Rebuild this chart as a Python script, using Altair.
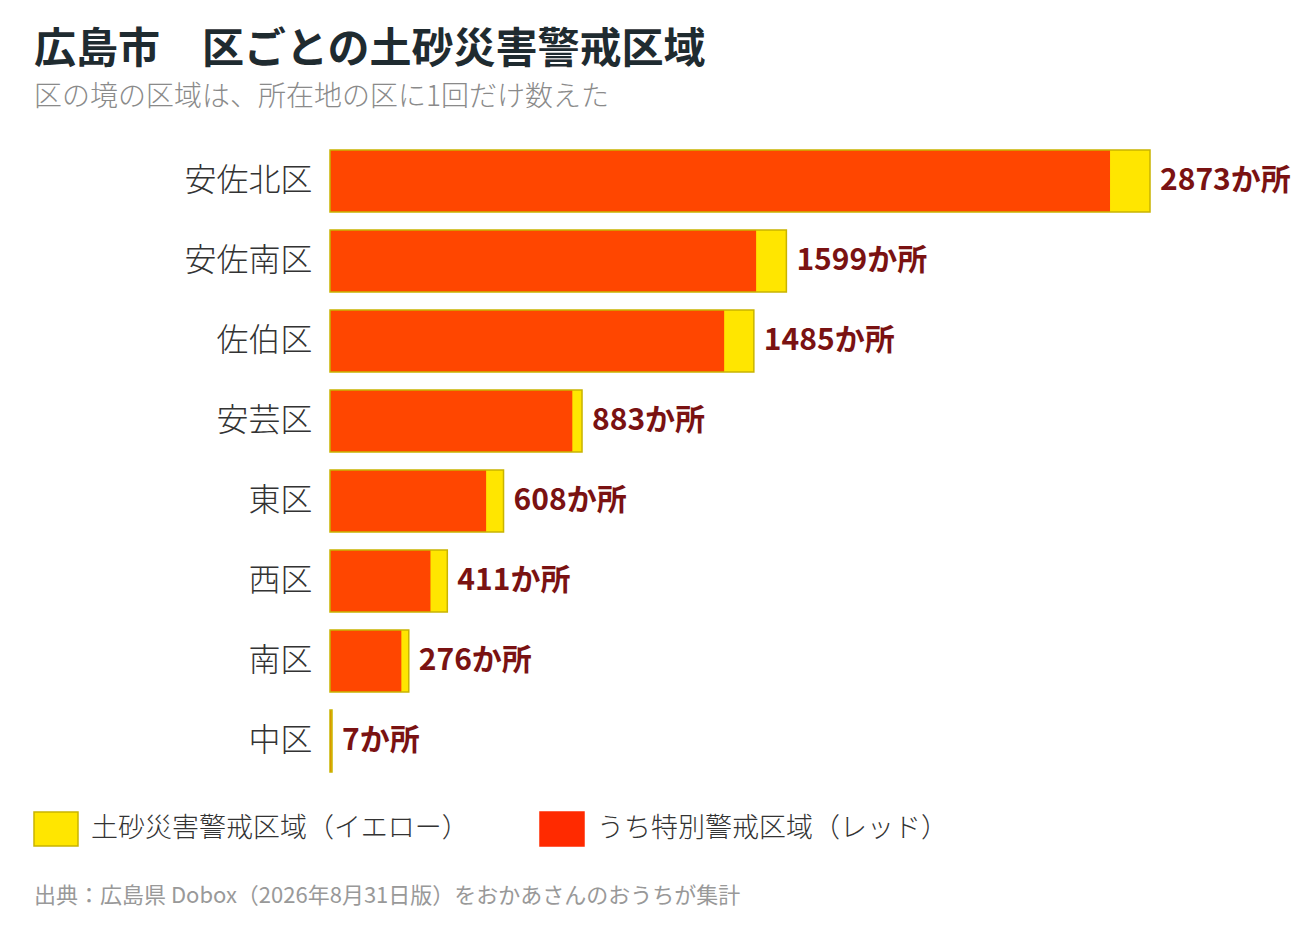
import altair as alt
import pandas as pd

districts = ["安佐北区", "安佐南区", "佐伯区", "安芸区", "東区", "西区", "南区", "中区"]
total = [2873, 1599, 1485, 883, 608, 411, 276, 7]
red = [2733, 1493, 1381, 849, 547, 352, 250, 5]
series = ["土砂災害警戒区域（イエロー）", "うち特別警戒区域（レッド）"]
source_note = ["出典：広島県 Dobox（2026年8月31日版）をおかあさんのおうちが集計"]

FONT = "Noto Sans CJK JP"
YELLOW = "#FFE600"
GOLD = "#C9B400"
BAR_RED = "#FF4600"
LEG_RED = "#FF2A00"
LABEL = "#7A1212"

df = pd.DataFrame({
    "district": districts,
    "total": total,
    "red": red,
    "label": [f"{v}か所" for v in total],
})

x_scale = alt.Scale(domain=[0, 2873], nice=False, zero=True)
y_enc = alt.Y(
    "district:N",
    sort=districts,
    scale=alt.Scale(paddingInner=0.225, paddingOuter=0.1125),
    axis=alt.Axis(title=None, ticks=False, domain=False, labelFont=FONT,
                  labelFontSize=32, labelColor="#333333", labelPadding=18,
                  labelFontWeight=300),
)

base = alt.Chart(df).encode(y=y_enc)

yellow_bars = base.mark_bar(color=YELLOW, cornerRadius=0).encode(
    x=alt.X("total:Q", scale=x_scale, axis=None)
)
red_bars = base.mark_bar(color=BAR_RED, cornerRadius=0).encode(
    x=alt.X("red:Q", scale=x_scale, axis=None)
)
outline = base.mark_bar(fillOpacity=0, stroke=GOLD, strokeWidth=1.5, cornerRadius=0).encode(
    x=alt.X("total:Q", scale=x_scale, axis=None)
)
labels = base.mark_text(align="left", baseline="middle", dx=10, font=FONT,
                        fontSize=30, fontWeight="bold", color=LABEL).encode(
    x=alt.X("total:Q", scale=x_scale, axis=None),
    text="label:N",
)

legend_df = pd.DataFrame({"series": series})
legend_layer = alt.Chart(legend_df).mark_square(opacity=1, size=0, strokeWidth=0).encode(
    color=alt.Color("series:N", sort=series,
                    scale=alt.Scale(domain=series, range=[YELLOW, LEG_RED]),
                    legend=alt.Legend(
                        title=None, orient="none", direction="horizontal",
                        legendX=-292, legendY=670,
                        symbolType="M-1.294,-1H1.294V1H-1.294Z",
                        symbolSize=1156, symbolOpacity=1, symbolStrokeWidth=1.5,
                        labelFont=FONT, labelFontSize=27, labelColor="#333333",
                        labelFontWeight=300,
                        labelOffset=17, columnPadding=68, labelLimit=500,
                    )),
    stroke=alt.Stroke("series:N", sort=series,
                      scale=alt.Scale(domain=series, range=[GOLD, LEG_RED]),
                      legend=alt.Legend(title=None, orient="none")),
)

note = alt.Chart(pd.DataFrame({"t": source_note})).mark_text(
    align="left", baseline="middle", font=FONT, fontSize=22, color="#999999"
).encode(x=alt.value(-296), y=alt.value(755), text="t:N")

chart = alt.layer(yellow_bars, red_bars, outline, labels, legend_layer, note).properties(
    width=820,
    height=640,
    padding={"left": 322, "top": 133, "right": 142, "bottom": 140},
    autosize=alt.AutoSizeParams(type="none"),
    title=alt.TitleParams(
        text="広島市　区ごとの土砂災害警戒区域",
        subtitle="区の境の区域は、所在地の区に1回だけ数えた",
        anchor="start", frame="group", dx=-296, offset=28,
        font=FONT, fontSize=42, fontWeight="bold", color="#1F2B30",
        subtitleFont=FONT, subtitleFontSize=28, subtitleColor="#8A8A8A",
        subtitleFontWeight=300, subtitlePadding=12,
    ),
).configure(background="white").configure_view(stroke=None)

chart.save("out.html", embed_options={"renderer": "svg", "actions": False})
